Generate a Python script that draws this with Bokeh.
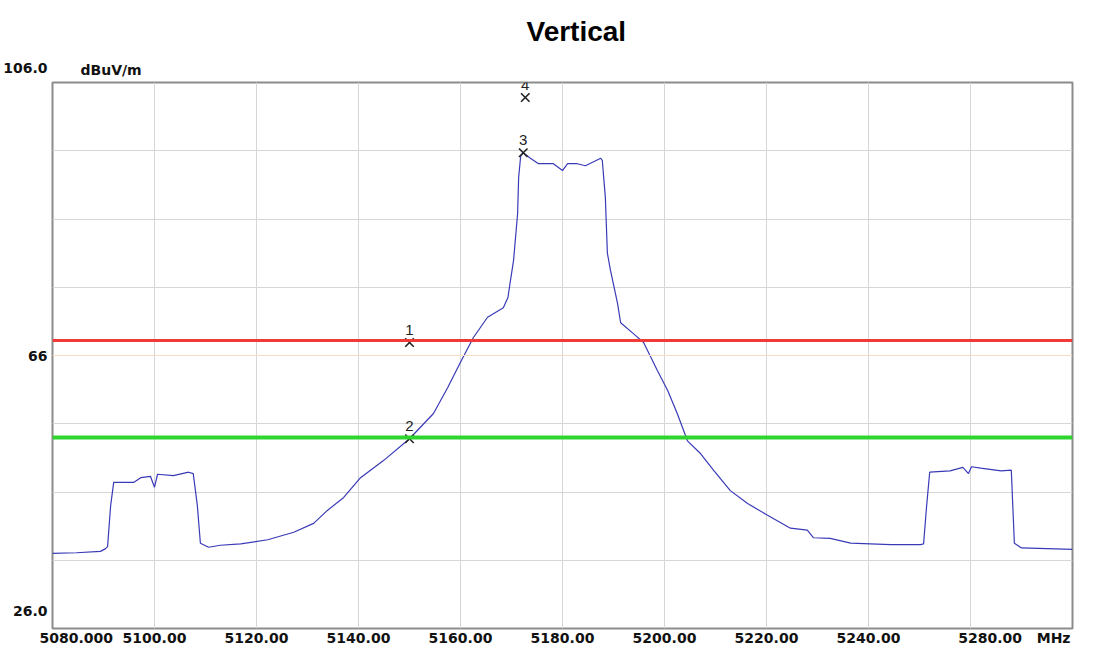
from bokeh.plotting import figure
from bokeh.models import (FixedTicker, Span, Range1d, ColumnDataSource, Title, LinearAxis)
from bokeh.core.properties import value
from bokeh.embed import file_html
from bokeh.resources import INLINE

# Trace: frequency (MHz) and level (dBuV/m)
freq_mhz = [
    5080.0, 5084.7, 5089.4, 5090.4, 5090.8, 5091.4, 5092.0, 5093.3, 5095.9, 5097.3,
    5099.2, 5100.0, 5100.6, 5103.7, 5106.7, 5107.6, 5108.4, 5109.0, 5110.6, 5112.9,
    5116.9, 5122.2, 5127.3, 5131.2, 5133.9, 5137.1, 5140.4, 5144.9, 5150.0, 5154.7,
    5157.5, 5160.0, 5162.5, 5165.3, 5168.4, 5169.3, 5169.8, 5170.4, 5171.2, 5171.4,
    5171.8, 5172.3, 5173.7, 5175.3, 5178.2, 5180.0, 5181.0, 5182.9, 5184.5, 5187.5,
    5187.8, 5188.4, 5188.8, 5189.4, 5190.8, 5191.4, 5193.9, 5195.9, 5198.6, 5200.6,
    5202.5, 5204.5, 5207.1, 5209.6, 5212.9, 5216.3, 5220.2, 5224.7, 5228.0, 5229.2,
    5232.5, 5236.5, 5244.3, 5250.2, 5250.8, 5251.4, 5252.0, 5256.0, 5258.5, 5259.6,
    5260.2, 5262.0, 5266.0, 5268.0, 5268.6, 5270.0, 5280.0,
]
level_dbuv = [
    37.0, 37.1, 37.3, 37.7, 38.0, 44.0, 47.4, 47.4, 47.4, 48.1,
    48.3, 46.7, 48.6, 48.4, 48.9, 48.7, 44.0, 38.5, 37.9, 38.2,
    38.4, 39.0, 40.1, 41.4, 43.3, 45.2, 48.1, 50.6, 53.8, 57.5,
    61.3, 65.0, 68.6, 71.6, 73.0, 74.5, 77.0, 79.9, 86.8, 92.1,
    95.2, 95.7, 94.9, 94.1, 94.1, 93.1, 94.1, 94.1, 93.8, 94.9,
    94.6, 89.2, 81.0, 78.5, 73.6, 70.8, 69.2, 67.9, 63.8, 60.9,
    57.5, 53.5, 51.6, 49.2, 46.2, 44.3, 42.6, 40.7, 40.4, 39.3,
    39.2, 38.5, 38.3, 38.3, 38.4, 44.0, 48.9, 49.1, 49.6, 48.7,
    49.7, 49.5, 49.1, 49.2, 38.5, 37.8, 37.6,
]

# Limit lines (dBuV/m)
peak_limit = 68.2
avg_limit = 54.0
ref_level = 66

# Markers
marker_ids = ["1", "2", "3", "4"]
marker_freq = [5150.0, 5150.0, 5172.3, 5172.7]
marker_level = [67.9, 53.8, 95.7, 103.8]

# Axes
x_min, x_max = 5080.0, 5280.0
y_min, y_max = 26.0, 106.0
x_ticks = [5080, 5100, 5120, 5140, 5160, 5180, 5200, 5220, 5240, 5260, 5280]
NB = "\u00a0"
x_tick_labels = [NB * 8 + "5080.000", "5100.00", "5120.00", "5140.00", "5160.00",
                 "5180.00", "5200.00", "5220.00", "5240.00", "",
                 "5280.00" + NB * 3 + "MHz" + NB * 8]
x_grid = [5100, 5120, 5140, 5160, 5180, 5200, 5220, 5240, 5260]
y_ticks = [26, 66, 106]
y_tick_labels = ["26.0\n\n", "66", "106.0\n\n"]
y_grid = [36, 46, 56, 76, 86, 96]
unit_text = "dBuV/m"

LABEL_FONT = "DejaVu Sans"

p = figure(width=1109, height=648, output_backend="svg", toolbar_location=None,
           x_range=Range1d(x_min, x_max), y_range=Range1d(y_min, y_max),
           min_border_left=52, min_border_right=37, min_border_top=82,
           min_border_bottom=20, y_axis_location=None, title=None)
p.background_fill_color = "white"
p.border_fill_color = "white"
p.outline_line_color = "#8c8c8c"
p.outline_line_width = 2

# unit caption sits right above the frame, chart title above that
p.add_layout(Title(text=unit_text, text_font=LABEL_FONT, text_font_size="14px",
                   text_font_style="bold", align="left", offset=28,
                   text_color="#111111"), "above")
main_title = Title(text="Vertical", text_font="Liberation Sans", text_font_size="28px",
                   text_font_style="bold", align="left", offset=474,
                   text_color="#000000")
if "standoff" in main_title.properties():
    main_title.standoff = 16
p.add_layout(main_title, "above")

# x axis
xa = p.xaxis[0]
xa.ticker = FixedTicker(ticks=x_ticks)
xa.major_label_overrides = {t: s for t, s in zip(x_ticks, x_tick_labels)}
xa.axis_line_color = None
xa.major_tick_line_color = None
xa.minor_tick_line_color = None
xa.major_tick_out = 0
xa.major_tick_in = 0
xa.minor_tick_out = 0
xa.major_label_standoff = 1
xa.major_label_text_font = LABEL_FONT
xa.major_label_text_font_style = "bold"
xa.major_label_text_font_size = "14px"
xa.major_label_text_color = "#111111"

# y axis
ya = LinearAxis(ticker=FixedTicker(ticks=y_ticks))
ya.major_label_overrides = {t: s for t, s in zip(y_ticks, y_tick_labels)}
ya.axis_line_color = None
ya.major_tick_line_color = None
ya.minor_tick_line_color = None
ya.major_tick_out = 0
ya.major_tick_in = 0
ya.minor_tick_out = 0
ya.major_label_standoff = 5
ya.major_label_text_font = LABEL_FONT
ya.major_label_text_font_style = "bold"
ya.major_label_text_font_size = "14px"
ya.major_label_text_line_height = 0.92
ya.major_label_text_color = "#111111"
p.add_layout(ya, "left")

p.xgrid.ticker = FixedTicker(ticks=x_grid)
p.xgrid.grid_line_color = "#d6d6d6"
p.ygrid.ticker = FixedTicker(ticks=y_grid)
p.ygrid.grid_line_color = "#d6d6d6"

p.add_layout(Span(location=ref_level, dimension="width", line_color="#f7dcc6", line_width=1))

# limit lines
p.add_layout(Span(location=peak_limit, dimension="width", line_color="#f03a3a", line_width=3))
p.add_layout(Span(location=avg_limit, dimension="width", line_color="#2fd42f", line_width=4))

# trace
p.line(freq_mhz, level_dbuv, line_color="#3a3ab8", line_width=1.2)

# markers
msrc = ColumnDataSource(dict(f=marker_freq, l=marker_level, t=marker_ids))
p.scatter("f", "l", source=msrc, marker="x", size=12, line_color="#222222", line_width=1.6)
p.text("f", "l", text="t", source=msrc, text_align="center", text_baseline="bottom",
       y_offset=-8, text_font=value("Liberation Sans"), text_font_size="15px",
       text_color="#222222")

open("out.html", "w").write(file_html(p, INLINE))
